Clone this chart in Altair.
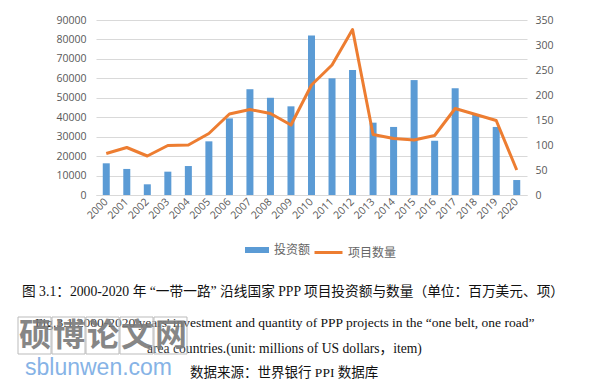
import altair as alt
import pandas as pd

years = [str(y) for y in range(2000, 2021)]
investment = [16300, 13400, 5500, 12000, 14900, 27600, 39400, 54400, 50000, 45600,
              82000, 60000, 64300, 37200, 35000, 59100, 27900, 54900, 41300, 35000, 7700]
projects = [83, 95, 78, 99, 100, 123, 162, 171, 163, 140,
            220, 260, 331, 121, 113, 110, 119, 173, 161, 149, 50]
left_ticks = list(range(0, 90001, 10000))
right_ticks = list(range(0, 351, 50))
series_names = ["投资额", "项目数量"]

caption_cn = "图 3.1：2000-2020 年 “一带一路” 沿线国家 PPP 项目投资额与数量（单位：百万美元、项）"
caption_en1 = "Fig.3.1 2000-2020 years' investment and quantity of PPP projects in the “one belt, one road”"
caption_en2 = "area countries.(unit: millions of US dollars，item)"
source_note = "数据来源：世界银行 PPI 数据库"
wm_chars = ["硕", "博", "论", "文", "网"]
wm_url = "sblunwen.com"

df = pd.DataFrame({"year": years, "invest": investment, "count": projects,
                   "s1": series_names[0], "s2": series_names[1]})

AX_FONT = "Open Sans"
GREY = "#595959"
SERIF = "Liberation Serif, Noto Sans CJK SC"

x_enc = alt.X("year:O", sort=years,
              scale=alt.Scale(paddingInner=0, paddingOuter=0),
              axis=alt.Axis(title=None, labelAngle=-45, labelAlign="right", labelBaseline="middle",
                            labelFont=AX_FONT, labelFontSize=10.5, labelColor=GREY,
                            ticks=False, domainColor="#d9d9d9", labelPadding=5))

bars = alt.Chart(df).mark_bar(size=7).encode(
    x=x_enc,
    y=alt.Y("invest:Q", scale=alt.Scale(domain=[0, 90000]),
            axis=alt.Axis(title=None, values=left_ticks, format="d", grid=True,
                          gridColor="#d9d9d9", domain=False, ticks=False, labelPadding=10,
                          labelFont=AX_FONT, labelFontSize=10.5, labelColor=GREY)),
    color=alt.Color("s1:N", scale=alt.Scale(domain=[series_names[0]], range=["#5b9bd5"]),
                    legend=alt.Legend(title=None, orient="none", legendX=148, legendY=217,
                                      symbolType="M-1,-0.25H1V0.25H-1Z", symbolSize=576,
                                      labelFont="Noto Sans CJK SC", labelFontSize=12,
                                      labelColor="#666666", labelOffset=4)),
)

line = alt.Chart(df).mark_line(strokeWidth=3, strokeJoin="round").encode(
    x=x_enc,
    y=alt.Y("count:Q", scale=alt.Scale(domain=[0, 350]),
            axis=alt.Axis(title=None, orient="right", values=right_ticks, grid=False,
                          domain=False, ticks=False, labelPadding=8,
                          labelFont=AX_FONT, labelFontSize=10.5, labelColor=GREY)),
    stroke=alt.Stroke("s2:N", scale=alt.Scale(domain=[series_names[1]], range=["#ed7d31"]),
                      legend=alt.Legend(title=None, orient="none", legendX=217, legendY=217,
                                        symbolType="stroke", symbolSize=784, symbolStrokeWidth=3,
                                        labelFont="Noto Sans CJK SC", labelFontSize=12,
                                        labelColor="#666666", labelOffset=4)),
)


def txt(s, x, y, **kw):
    return alt.Chart(pd.DataFrame({"t": [s]})).mark_text(align="left", baseline="middle", **kw).encode(
        text="t:N", x=alt.value(x), y=alt.value(y))


layers = [bars, line,
          txt(caption_cn, -74, 272, font=SERIF, fontSize=13.7, color="#111111"),
          txt(caption_en1, -61, 303, font=SERIF, fontSize=13.5, color="#111111"),
          txt(caption_en2, 51, 329, font=SERIF, fontSize=13.6, color="#111111"),
          txt(source_note, 94, 353, font=SERIF, fontSize=13.5, color="#111111")]

# watermark boxes and characters
for i, ch in enumerate(wm_chars):
    x0 = -78 + i * 34
    box = alt.Chart(pd.DataFrame({"a": [0]})).mark_rect(
        fill="white", fillOpacity=0.15, stroke="#bbbbbb", strokeWidth=1).encode(
        x=alt.value(x0), x2=alt.value(x0 + 33), y=alt.value(297), y2=alt.value(334))
    layers.append(box)
    layers.append(txt(ch, x0 + 1, 316, font="Noto Sans CJK SC", fontSize=32, fontWeight="bold",
                      color="#7a7a7a", opacity=0.9))
layers.append(txt(wm_url, -71, 348, font="Liberation Sans", fontSize=23, color="#86b3e6"))

chart = alt.layer(*layers).resolve_scale(y="independent", color="independent").properties(
    width=431, height=175,
    padding={"left": 88, "top": 12, "right": 81, "bottom": 185},
    autosize=alt.AutoSizeParams(type="none"),
    background="white",
).configure_view(stroke=None)

chart.save("out.html", embed_options={"renderer": "svg", "actions": False})
